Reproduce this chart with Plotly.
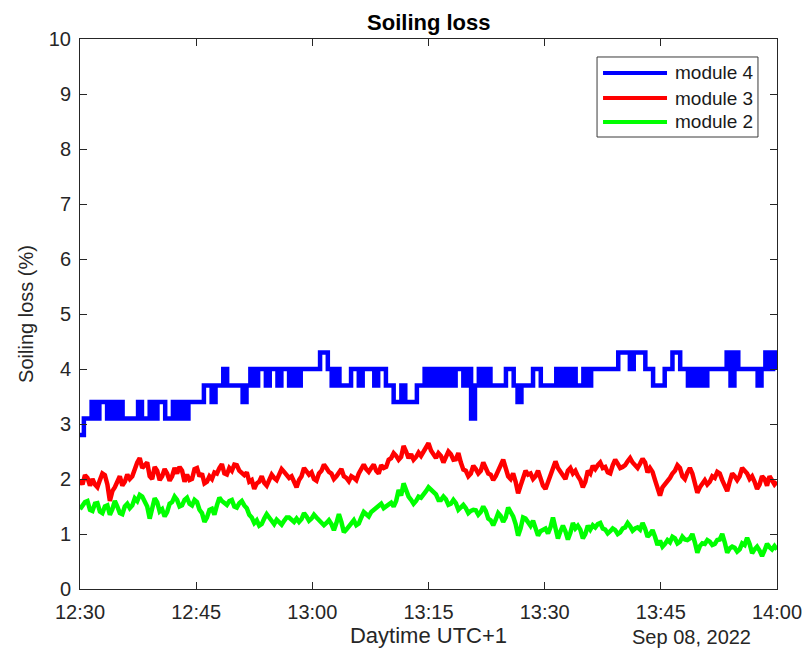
import pandas as pd
import plotly.graph_objects as go

# Soiling loss (%) of three PV modules, 12:30-14:00 on Sep 08, 2022 (UTC+1)
start = "2022-09-08 12:30:00"
end = "2022-09-08 14:00:00"

module4 = [2.8, 3.1, 3.1, 3.4, 3.1, 3.4, 3.4, 3.1, 3.4, 3.1,
           3.4, 3.1, 3.1, 3.1, 3.1, 3.4, 3.1, 3.1, 3.4, 3.1,
           3.4, 3.4, 3.1, 3.1, 3.4, 3.1, 3.4, 3.1, 3.4, 3.4,
           3.4, 3.4, 3.7, 3.7, 3.4, 3.7, 3.7, 4.0, 3.7, 3.7,
           3.7, 3.7, 3.4, 3.7, 4.0, 3.7, 4.0, 4.0, 3.7, 4.0,
           4.0, 3.7, 4.0, 4.0, 3.7, 4.0, 3.7, 4.0, 4.0, 4.0,
           4.0, 4.0, 4.3, 4.3, 4.0, 3.7, 4.0, 3.7, 3.7, 3.7,
           4.0, 4.0, 3.7, 4.0, 4.0, 4.0, 3.7, 4.0, 4.0, 3.7,
           3.7, 3.4, 3.4, 3.7, 3.4, 3.4, 3.4, 3.7, 3.7, 4.0,
           3.7, 4.0, 3.7, 4.0, 3.7, 4.0, 3.7, 4.0, 4.0, 3.7,
           4.0, 3.1, 3.7, 4.0, 3.7, 4.0, 3.7, 3.7, 3.7, 3.7,
           4.0, 4.0, 3.7, 3.4, 3.7, 3.7, 3.7, 4.0, 4.0, 3.7,
           3.7, 3.7, 3.7, 4.0, 3.7, 4.0, 3.7, 4.0, 3.7, 3.7,
           4.0, 3.7, 4.0, 4.0, 4.0, 4.0, 4.0, 4.0, 4.0, 4.3,
           4.3, 4.3, 4.0, 4.3, 4.3, 4.3, 4.0, 4.0, 3.7, 3.7,
           3.7, 4.0, 4.0, 4.3, 4.3, 4.0, 4.0, 3.7, 4.0, 3.7,
           4.0, 3.7, 4.0, 4.0, 4.0, 4.0, 4.0, 4.3, 3.7, 4.3,
           4.0, 4.0, 4.0, 4.0, 4.0, 3.7, 4.0, 4.3, 4.0, 4.3,
           4.0]

module3 = [1.98, 1.90, 2.07, 2.02, 1.88, 2.00, 1.90, 1.85, 1.98, 2.10,
           2.07, 1.90, 1.60, 1.78, 1.85, 1.98, 2.05, 1.88, 1.95, 2.08,
           2.00, 2.05, 2.20, 2.30, 2.38, 2.20, 2.25, 2.30, 2.05, 2.00,
           2.22, 2.15, 1.98, 2.05, 2.18, 2.10, 1.97, 2.05, 2.20, 2.10,
           2.22, 2.15, 1.95, 2.08, 1.98, 2.00, 2.18, 2.20, 2.05, 2.10,
           1.92, 1.95, 2.05, 2.00, 2.12, 2.10, 2.20, 2.27, 2.10, 2.08,
           2.20, 2.15, 2.26, 2.25, 2.15, 2.10, 2.07, 2.12, 1.95, 1.98,
           1.82, 1.92, 1.95, 2.05, 1.93, 1.88, 2.00, 2.08, 2.02, 1.98,
           2.08, 2.18, 2.13, 2.08, 2.02, 2.05, 1.92, 1.85, 1.98, 2.05,
           2.20, 2.15, 2.08, 2.12, 2.00, 1.97, 2.10, 2.15, 2.26, 2.20,
           2.13, 2.10, 2.00, 2.05, 2.12, 2.18, 2.05, 2.02, 1.96, 2.05,
           2.02, 1.98, 2.10, 2.20, 2.26, 2.18, 2.13, 2.20, 2.26, 2.15,
           2.10, 2.25, 2.20, 2.22, 2.35, 2.38, 2.47, 2.42, 2.35, 2.40,
           2.60, 2.50, 2.38, 2.45, 2.35, 2.40, 2.48, 2.42, 2.50, 2.55,
           2.65, 2.52, 2.44, 2.38, 2.47, 2.42, 2.30, 2.38, 2.50, 2.45,
           2.35, 2.36, 2.47, 2.30, 2.17, 2.15, 2.05, 2.10, 2.24, 2.18,
           2.10, 2.15, 2.30, 2.20, 2.10, 2.08, 1.98, 2.05, 2.16, 2.22,
           2.35, 2.20, 2.05, 2.00, 2.10, 1.95, 1.74, 1.88, 2.05, 2.15,
           2.08, 2.10, 2.00, 2.05, 2.15, 2.00, 1.88, 1.82, 1.95, 2.08,
           2.22, 2.32, 2.20, 2.12, 2.05, 2.00, 2.15, 2.20, 2.10, 2.15,
           2.05, 1.98, 1.85, 1.95, 2.15, 2.10, 2.24, 2.18, 2.25, 2.30,
           2.20, 2.22, 2.12, 2.10, 2.25, 2.35, 2.28, 2.20, 2.22, 2.25,
           2.32, 2.38, 2.30, 2.25, 2.20, 2.28, 2.37, 2.30, 2.12, 2.20,
           2.13, 1.98, 1.80, 1.70, 1.85, 1.90, 1.98, 2.02, 2.10, 2.15,
           2.25, 2.20, 2.05, 2.00, 2.12, 2.20, 2.10, 1.95, 1.75, 1.85,
           1.92, 1.98, 1.90, 1.95, 2.05, 2.02, 2.13, 2.10, 1.98, 1.90,
           1.78, 1.95, 2.10, 2.05, 1.98, 2.05, 2.20, 2.15, 2.10, 2.00,
           2.05, 1.95, 1.82, 1.90, 2.05, 2.00, 1.88, 2.05, 1.98, 1.90,
           1.95]

module2 = [1.45, 1.52, 1.58, 1.60, 1.44, 1.42, 1.55, 1.56, 1.41, 1.38,
           1.50, 1.52, 1.35, 1.45, 1.60, 1.50, 1.38, 1.36, 1.50, 1.55,
           1.47, 1.52, 1.65, 1.60, 1.71, 1.68, 1.60, 1.50, 1.28, 1.45,
           1.65, 1.58, 1.41, 1.45, 1.32, 1.40, 1.55, 1.58, 1.68, 1.62,
           1.50, 1.52, 1.62, 1.66, 1.55, 1.52, 1.62, 1.58, 1.44, 1.38,
           1.22, 1.30, 1.44, 1.46, 1.35, 1.52, 1.66, 1.60, 1.57, 1.53,
           1.60, 1.62, 1.50, 1.48, 1.56, 1.60, 1.52, 1.47, 1.35, 1.30,
           1.20, 1.25, 1.15, 1.18, 1.28, 1.36, 1.30, 1.25, 1.18, 1.26,
           1.22, 1.17, 1.24, 1.30, 1.30, 1.25, 1.22, 1.28, 1.22, 1.27,
           1.38, 1.32, 1.24, 1.28, 1.35, 1.30, 1.25, 1.22, 1.16, 1.20,
           1.25, 1.18, 1.07, 1.20, 1.36, 1.22, 1.03, 1.08, 1.13, 1.20,
           1.25, 1.16, 1.19, 1.30, 1.40, 1.36, 1.32, 1.40, 1.44, 1.47,
           1.52, 1.55, 1.47, 1.50, 1.55, 1.57, 1.50, 1.60, 1.80, 1.70,
           1.92, 1.78, 1.68, 1.62, 1.55, 1.60, 1.68, 1.66, 1.74, 1.78,
           1.85, 1.80, 1.77, 1.72, 1.62, 1.62, 1.68, 1.63, 1.53, 1.55,
           1.62, 1.56, 1.44, 1.48, 1.53, 1.47, 1.38, 1.42, 1.44, 1.43,
           1.35, 1.40, 1.50, 1.42, 1.28, 1.25, 1.16, 1.26, 1.38, 1.33,
           1.22, 1.30, 1.48, 1.40, 1.32, 1.18, 0.97, 1.10, 1.30, 1.28,
           1.22, 1.15, 1.24, 1.12, 0.97, 1.05, 1.07, 1.10, 1.01, 1.12,
           1.30, 1.12, 0.92, 1.05, 1.15, 1.05, 0.90, 1.02, 1.20, 1.10,
           1.15, 1.08, 0.92, 1.00, 1.15, 1.08, 1.16, 1.12, 1.18, 1.20,
           1.10, 1.08, 1.01, 1.05, 1.10, 1.07, 1.00, 1.03, 1.10, 1.12,
           1.20, 1.14, 1.06, 1.10, 1.12, 1.08, 1.20, 1.10, 0.95, 1.00,
           1.07, 0.95, 0.80, 0.88, 0.77, 0.82, 0.89, 0.85, 0.95, 0.92,
           0.83, 0.86, 0.95, 0.90, 0.89, 0.92, 1.00, 0.85, 0.66, 0.78,
           0.83, 0.82, 0.89, 0.86, 0.80, 0.82, 0.89, 0.90, 1.00, 0.85,
           0.66, 0.74, 0.77, 0.75, 0.68, 0.72, 0.83, 0.80, 0.93, 0.82,
           0.65, 0.72, 0.77, 0.70, 0.60, 0.70, 0.82, 0.76, 0.72, 0.78,
           0.72]

series = [
    ("module 4", module4, "#0000FF", "hv"),
    ("module 3", module3, "#FF0000", "linear"),
    ("module 2", module2, "#00FF00", "linear"),
]

y_ticks = list(range(0, 11))
x_tick_times = pd.date_range(start, end, freq="15min")
x_tick_labels = [t.strftime("%H:%M") for t in x_tick_times]

FONT = "Liberation Sans, Arial, Helvetica, sans-serif"
AXIS_COLOR = "#262626"

fig = go.Figure()
for name, values, color, shape in series:
    times = pd.date_range(start, end, periods=len(values))
    fig.add_trace(go.Scatter(
        x=times, y=values, mode="lines", name=name,
        line=dict(color=color, width=4.5, shape=shape),
        showlegend=False,
    ))

# boxed legend in the upper right corner of the axes
leg_x0, leg_x1 = 0.7418, 0.9727
leg_y0, leg_y1 = 0.8218, 0.9673
row_y = [0.9382, 0.8927, 0.8491]
fig.add_shape(type="rect", xref="paper", yref="paper",
              x0=leg_x0, x1=leg_x1, y0=leg_y0, y1=leg_y1,
              line=dict(color="#3a3a3a", width=1), fillcolor="white",
              layer="above")
for (name, _, color, _), ry in zip(series, row_y):
    fig.add_shape(type="line", xref="paper", yref="paper",
                  x0=0.7504, x1=0.8422, y0=ry, y1=ry,
                  line=dict(color=color, width=4), layer="above")
    fig.add_annotation(xref="paper", yref="paper", x=0.8508, y=ry,
                       text=name, showarrow=False, xanchor="left",
                       yanchor="middle",
                       font=dict(family=FONT, size=19, color="#1a1a1a"))

# date stamp under the right end of the time axis
fig.add_annotation(xref="paper", yref="paper", x=0.878, y=-0.087,
                   text="Sep 08, 2022", showarrow=False,
                   xanchor="center", yanchor="middle",
                   font=dict(family=FONT, size=20, color=AXIS_COLOR))

fig.update_layout(
    width=803, height=655,
    margin=dict(l=80, r=26, t=39, b=66),
    paper_bgcolor="white", plot_bgcolor="white",
    font=dict(family=FONT, color=AXIS_COLOR),
    title=dict(text="<b>Soiling loss</b>", x=0.534, xanchor="center",
               y=1 - 22 / 655, yanchor="middle", yref="container",
               font=dict(family=FONT, size=22, color="black")),
    xaxis=dict(
        range=[pd.Timestamp(start), pd.Timestamp(end)],
        tickvals=x_tick_times, ticktext=x_tick_labels,
        ticks="inside", ticklen=7, tickcolor=AXIS_COLOR,
        showline=True, linecolor=AXIS_COLOR, linewidth=1, mirror="ticks",
        showgrid=False, zeroline=False, automargin=False,
        tickfont=dict(family=FONT, size=20, color=AXIS_COLOR),
        ticklabelstandoff=5,
        title=dict(text="Daytime UTC+1", standoff=5,
                   font=dict(family=FONT, size=22, color=AXIS_COLOR)),
    ),
    yaxis=dict(
        range=[0, 10], tickvals=y_ticks,
        ticks="inside", ticklen=7, tickcolor=AXIS_COLOR,
        showline=True, linecolor=AXIS_COLOR, linewidth=1, mirror="ticks",
        showgrid=False, zeroline=False, automargin=False,
        tickfont=dict(family=FONT, size=20, color=AXIS_COLOR),
        ticklabelstandoff=4,
        title=dict(text="Soiling loss (%)", standoff=9,
                   font=dict(family=FONT, size=20, color=AXIS_COLOR)),
    ),
)

fig.write_html("out.html")
